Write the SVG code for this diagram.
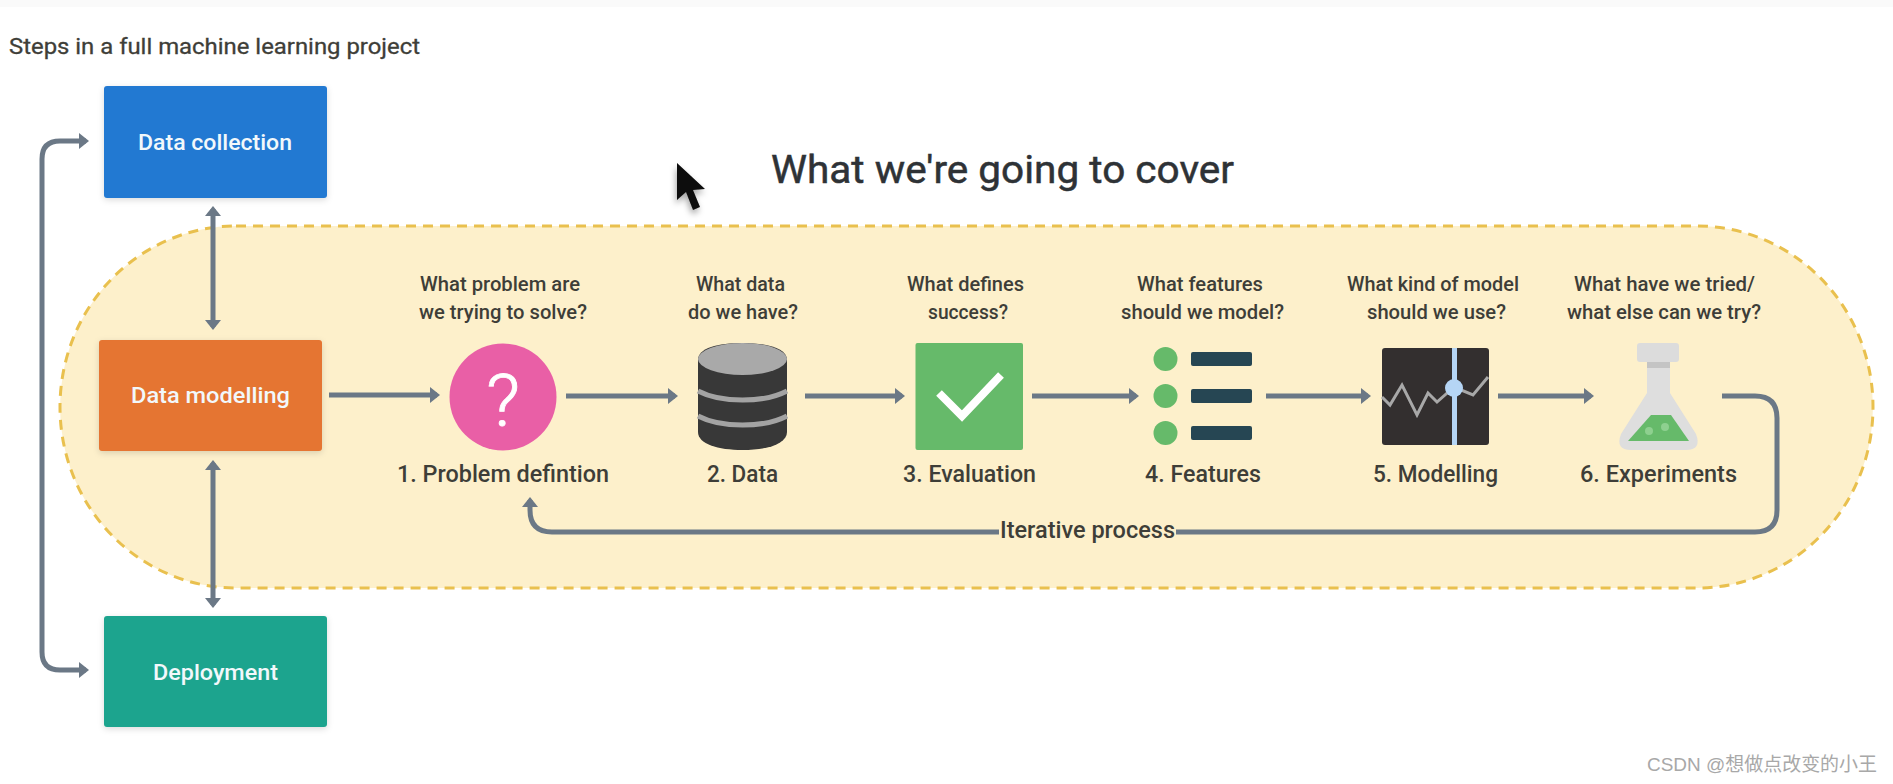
<svg xmlns="http://www.w3.org/2000/svg" width="1893" height="784" viewBox="0 0 1893 784">
<style>
text{font-family:"Roboto","Noto Sans",sans-serif;text-anchor:start;font-weight:500}
.t{font-size:20px;fill:#3e3e38}
.l{font-size:23px;fill:#3e3e38}
.w{font-size:22px;fill:#f2f8fb;font-weight:500}
.c{fill:none;stroke:#6b7886;stroke-width:5;stroke-linejoin:round}
.a{marker-end:url(#h)}
.d{marker-end:url(#h);marker-start:url(#h)}
.box{filter:url(#s)}
</style>
<defs>
<marker id="h" markerUnits="userSpaceOnUse" viewBox="0 0 14 18" markerWidth="14" markerHeight="18" refX="10" refY="9" orient="auto-start-reverse"><path d="M3 1L13 9L3 17Z" fill="#6b7886"/></marker>
<filter id="s" x="-10%" y="-10%" width="120%" height="125%"><feDropShadow dx="0" dy="2" stdDeviation="3" flood-color="#000" flood-opacity=".14"/></filter>
<filter id="cs" x="-40%" y="-40%" width="180%" height="180%"><feDropShadow dx="-1" dy="4" stdDeviation="3" flood-color="#000" flood-opacity=".35"/></filter>
</defs>
<rect width="1893" height="784" fill="#fff"/>
<rect width="1893" height="7" fill="#fafafa"/>
<text x="9" y="54" class="l" style="font-size:22px;font-weight:400;stroke:#3e3e38;stroke-width:.3" textLength="411" lengthAdjust="spacingAndGlyphs">Steps in a full machine learning project</text>
<text x="771" y="183" style="font-size:39px;fill:#2e3236;font-weight:400;stroke:#2e3236;stroke-width:.5" textLength="463" lengthAdjust="spacingAndGlyphs">What we're going to cover</text>
<rect id="scope" x="60" y="226" width="1813" height="362" rx="176" ry="181" fill="#fdf0cb" stroke="#e9c04e" stroke-width="3" stroke-dasharray="10 7"/>
<polygon id="cursor" points="677,163 677,200 686,192 693,210 700,207 693,190 705,189" fill="#0c0c0c" filter="url(#cs)"/>
<g id="connectors">
<path class="c d" d="M86 141H60Q42 141 42 159V652Q42 670 60 670H86"/>
<path class="c d" d="M213 209V327"/>
<path class="c d" d="M213 463V605"/>
<path class="c a" d="M329 395H437"/>
<path class="c a" d="M566 396H675"/>
<path class="c a" d="M805 396H902"/>
<path class="c a" d="M1032 396H1136"/>
<path class="c a" d="M1266 396H1368"/>
<path class="c a" d="M1498 396H1591"/>
<path class="c" d="M1722 396H1755Q1777 396 1777 418V510Q1777 532 1755 532H1176"/>
<path class="c a" d="M999 532H552Q530 532 530 510V500"/>
</g>
<g id="data-collection"><rect class="box" x="104" y="86" width="223" height="112" rx="3" fill="#2279d2"/><text x="138" y="150" class="w" textLength="154" lengthAdjust="spacingAndGlyphs">Data collection</text></g>
<g id="data-modelling"><rect class="box" x="99" y="340" width="223" height="111" rx="3" fill="#e57530"/><text x="131" y="403" class="w" textLength="159" lengthAdjust="spacingAndGlyphs">Data modelling</text></g>
<g id="deployment"><rect class="box" x="104" y="616" width="223" height="111" rx="3" fill="#1ca48e"/><text x="153" y="680" class="w" textLength="125" lengthAdjust="spacingAndGlyphs">Deployment</text></g>
<g id="step1">
<text x="420" y="291" class="t" textLength="160" lengthAdjust="spacingAndGlyphs">What problem are</text>
<text x="419" y="319" class="t" textLength="168" lengthAdjust="spacingAndGlyphs">we trying to solve?</text>
<circle cx="503" cy="397" r="53.500" fill="#e95fa6"/>
<text x="486" y="426" style="font-size:72px;fill:#fff;font-weight:300;stroke:#fff;stroke-width:.8" textLength="34" lengthAdjust="spacingAndGlyphs">?</text>
<text x="397" y="482" class="l" textLength="212" lengthAdjust="spacingAndGlyphs">1. Problem defintion</text>
</g>
<g id="step2">
<text x="696" y="291" class="t" textLength="89" lengthAdjust="spacingAndGlyphs">What data</text>
<text x="688" y="319" class="t" textLength="110" lengthAdjust="spacingAndGlyphs">do we have?</text>
<path d="M698 360C698 348 718 343 742.500 343C767 343 787 348 787 360V432C787 444 767 450 742.500 450C718 450 698 444 698 432Z" fill="#383838"/>
<ellipse cx="742.500" cy="359" rx="44.500" ry="16" fill="#a9a9a9"/>
<path d="M698 391Q715 400 742.500 400T787 391M698 416Q715 425 742.500 425T787 416" fill="none" stroke="#a3a3a3" stroke-width="5"/>
<text x="707" y="482" class="l" textLength="71" lengthAdjust="spacingAndGlyphs">2. Data</text>
</g>
<g id="step3">
<text x="907" y="291" class="t" textLength="117" lengthAdjust="spacingAndGlyphs">What defines</text>
<text x="928" y="319" class="t" textLength="80" lengthAdjust="spacingAndGlyphs">success?</text>
<rect x="915.500" y="343" width="107.500" height="107" rx="2" fill="#66ba6a"/>
<path d="M939 393L962 416L1001 375" fill="none" stroke="#fff" stroke-width="8"/>
<text x="903" y="482" class="l" textLength="133" lengthAdjust="spacingAndGlyphs">3. Evaluation</text>
</g>
<g id="step4">
<text x="1137" y="291" class="t" textLength="126" lengthAdjust="spacingAndGlyphs">What features</text>
<text x="1121" y="319" class="t" textLength="163" lengthAdjust="spacingAndGlyphs">should we model?</text>
<g fill="#66ba6a"><circle cx="1165.500" cy="359" r="12"/><circle cx="1165.500" cy="396" r="12"/><circle cx="1165.500" cy="433" r="12"/></g>
<g fill="#264653"><rect x="1191" y="352" width="61" height="14" rx="2"/><rect x="1191" y="389" width="61" height="14" rx="2"/><rect x="1191" y="426" width="61" height="14" rx="2"/></g>
<text x="1145" y="482" class="l" textLength="116" lengthAdjust="spacingAndGlyphs">4. Features</text>
</g>
<g id="step5">
<text x="1347" y="291" class="t" textLength="172" lengthAdjust="spacingAndGlyphs">What kind of model</text>
<text x="1367" y="319" class="t" textLength="139" lengthAdjust="spacingAndGlyphs">should we use?</text>
<rect x="1382" y="348" width="107" height="97" rx="3" fill="#332f2f"/>
<path d="M1382 397L1390 405L1402 385L1417 415L1428 393L1437 402L1454 387L1473 395L1488 377" fill="none" stroke="#a8a8a8" stroke-width="3"/>
<rect x="1452" y="348" width="5" height="97" fill="#b5d5f5"/>
<circle cx="1454" cy="388" r="9" fill="#b5d5f5"/>
<text x="1373" y="482" class="l" textLength="125" lengthAdjust="spacingAndGlyphs">5. Modelling</text>
</g>
<g id="step6">
<text x="1574" y="291" class="t" textLength="181" lengthAdjust="spacingAndGlyphs">What have we tried/</text>
<text x="1567" y="319" class="t" textLength="194" lengthAdjust="spacingAndGlyphs">what else can we try?</text>
<rect x="1637" y="343" width="42" height="19" rx="3" fill="#dcdcdc"/>
<path d="M1647 362H1670V393L1696 434Q1702 450 1686 450H1631Q1615 450 1621 434L1647 393Z" fill="#dedede"/>
<rect x="1647" y="362" width="23" height="6" fill="#c4c4c4"/>
<path d="M1651 415H1671L1689 441H1628Z" fill="#66ba6a"/>
<circle cx="1649" cy="431" r="4" fill="#8ed08f"/>
<circle cx="1665" cy="427" r="4" fill="#8ed08f"/>
<text x="1580" y="482" class="l" textLength="157" lengthAdjust="spacingAndGlyphs">6. Experiments</text>
</g>
<text x="1000" y="538" class="l" textLength="175" lengthAdjust="spacingAndGlyphs">Iterative process</text>
<text x="1647" y="771" style="font-family:'Liberation Sans','Noto Sans CJK SC',sans-serif;font-size:19px;font-weight:400;fill:#a8a8a8" textLength="230" lengthAdjust="spacingAndGlyphs">CSDN @想做点改变的小王</text>
</svg>
